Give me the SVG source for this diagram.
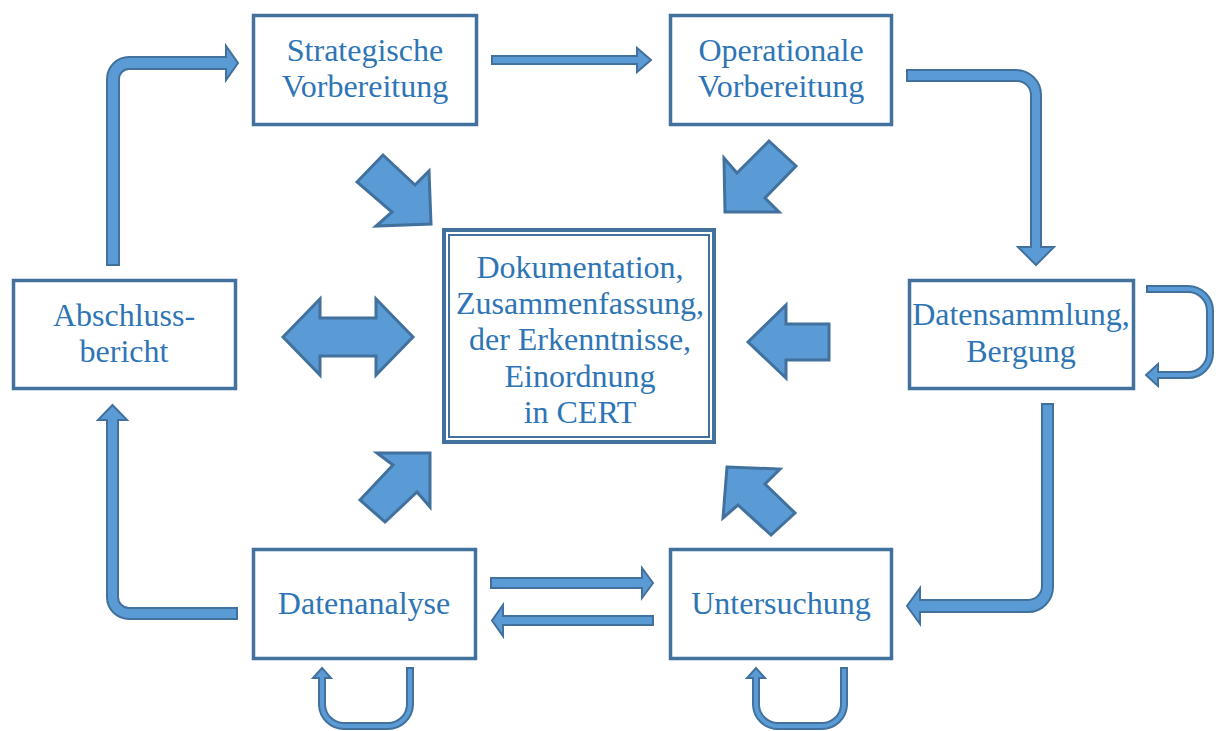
<svg xmlns="http://www.w3.org/2000/svg" width="1219" height="731" viewBox="0 0 1219 731">
<style>
.box{fill:#fff;stroke:#41719c;stroke-width:3.5}
.t{font-family:"Liberation Serif","Times New Roman",serif;font-size:32px;fill:#2e75b6;text-anchor:middle}
.ar{fill:#5b9bd5;stroke:#41719c;stroke-width:2;stroke-linejoin:miter}
.blk{fill:#5b9bd5;stroke:#41719c;stroke-width:3;stroke-linejoin:miter}
</style>
<rect width="1219" height="731" fill="#fff"/>
<g id="strategische">
<rect class="box" x="253.5" y="15.5" width="223" height="109"/>
<text class="t" x="365" y="61">Strategische</text>
<text class="t" x="365" y="97">Vorbereitung</text>
</g>
<g id="operationale">
<rect class="box" x="670.5" y="15.5" width="221" height="109"/>
<text class="t" x="781" y="61">Operationale</text>
<text class="t" x="781" y="97">Vorbereitung</text>
</g>
<g id="abschluss">
<rect class="box" x="13.5" y="280.5" width="222" height="108"/>
<text class="t" x="124" y="326">Abschluss-</text>
<text class="t" x="124" y="362">bericht</text>
</g>
<g id="datensammlung">
<rect class="box" x="909.5" y="280.5" width="224" height="108"/>
<text class="t" x="1021" y="325">Datensammlung,</text>
<text class="t" x="1021" y="362">Bergung</text>
</g>
<g id="datenanalyse">
<rect class="box" x="253.5" y="549.5" width="222" height="109"/>
<text class="t" x="364" y="614">Datenanalyse</text>
</g>
<g id="untersuchung">
<rect class="box" x="670.5" y="549.5" width="221" height="109"/>
<text class="t" x="781" y="614">Untersuchung</text>
</g>
<g id="dokumentation">
<rect x="444" y="230" width="270" height="212" fill="#fff" stroke="#41719c" stroke-width="4"/>
<rect x="449" y="235" width="260" height="202" fill="none" stroke="#41719c" stroke-width="2"/>
<text class="t" x="580" y="278">Dokumentation,</text>
<text class="t" x="580" y="314">Zusammenfassung,</text>
<text class="t" x="580" y="350">der Erkenntnisse,</text>
<text class="t" x="580" y="387">Einordnung</text>
<text class="t" x="580" y="423">in CERT</text>
</g>
<g id="connectors">
<path class="ar" d="M107,265 L107,79 A22,22 0 0 1 129,57 L226,57 L226,46 L238,63 L226,80 L226,69 L129,69 A10,10 0 0 0 119,79 L119,265 Z"/>
<path class="ar" d="M492,56 L637,56 L637,48 L651,60 L637,72 L637,64 L492,64 Z"/>
<path class="ar" d="M907,70 L1016,70 A25,25 0 0 1 1041,95 L1041,247 L1054,247 L1036,265 L1018,247 L1031,247 L1031,95 A14,14 0 0 0 1017,81 L907,81 Z"/>
<path class="ar" d="M1147,286 L1188,286 A25,25 0 0 1 1213,311 L1213,353 A25,25 0 0 1 1188,378 L1158,378 L1158,386 L1146,375 L1158,364 L1158,372 L1188,372 A19,19 0 0 0 1207,353 L1207,311 A19,19 0 0 0 1188,292 L1147,292 Z"/>
<path class="ar" d="M1042,404 L1053,404 L1053,587 A25,25 0 0 1 1028,612 L920,612 L920,624 L907,606 L920,588 L920,600 L1028,600 A14,14 0 0 0 1042,586 Z"/>
<path class="ar" d="M491,578 L642,578 L642,568 L653,583 L642,598 L642,588 L491,588 Z"/>
<path class="ar" d="M653,616 L503,616 L503,605 L492,620.5 L503,636 L503,625 L653,625 Z"/>
<path class="ar" d="M237,608 L129,608 A11,11 0 0 1 118,597 L118,420 L127,420 L112.5,405 L98,420 L107,420 L107,597 A22,22 0 0 0 129,619 L237,619 Z"/>
<path class="ar" d="M407,668 L413,668 L413,705 A25,25 0 0 1 388,729 L344,729 A25,25 0 0 1 319,705 L319,678 L313,678 L322,668 L331,678 L325,678 L325,705 A19,19 0 0 0 344,723 L388,723 A19,19 0 0 0 407,705 Z"/>
<path class="ar" transform="translate(434,0)" d="M407,668 L413,668 L413,705 A25,25 0 0 1 388,729 L344,729 A25,25 0 0 1 319,705 L319,678 L313,678 L322,668 L331,678 L325,678 L325,705 A19,19 0 0 0 344,723 L388,723 A19,19 0 0 0 407,705 Z"/>
<polygon class="blk" points="357,182 383,155 415,185 429,171 431,224 376,226 392,212"/>
<polygon class="blk" points="769,141 796,166 765,198 779,212 725,212 724,158 737,173"/>
<polygon class="blk" points="360,500 393,465 377,453 430,453 430,507 417,492 385,522"/>
<polygon class="blk" points="727,467 780,469 765,484 795,513 771,535 738,505 723,518"/>
<polygon class="blk" points="283,337 320,299 320,318 376,318 376,299 413,337 376,375 376,356 320,356 320,375"/>
<polygon class="blk" points="748,342 786,305 786,324 829,324 829,360 786,360 786,378"/>
</g>
</svg>
